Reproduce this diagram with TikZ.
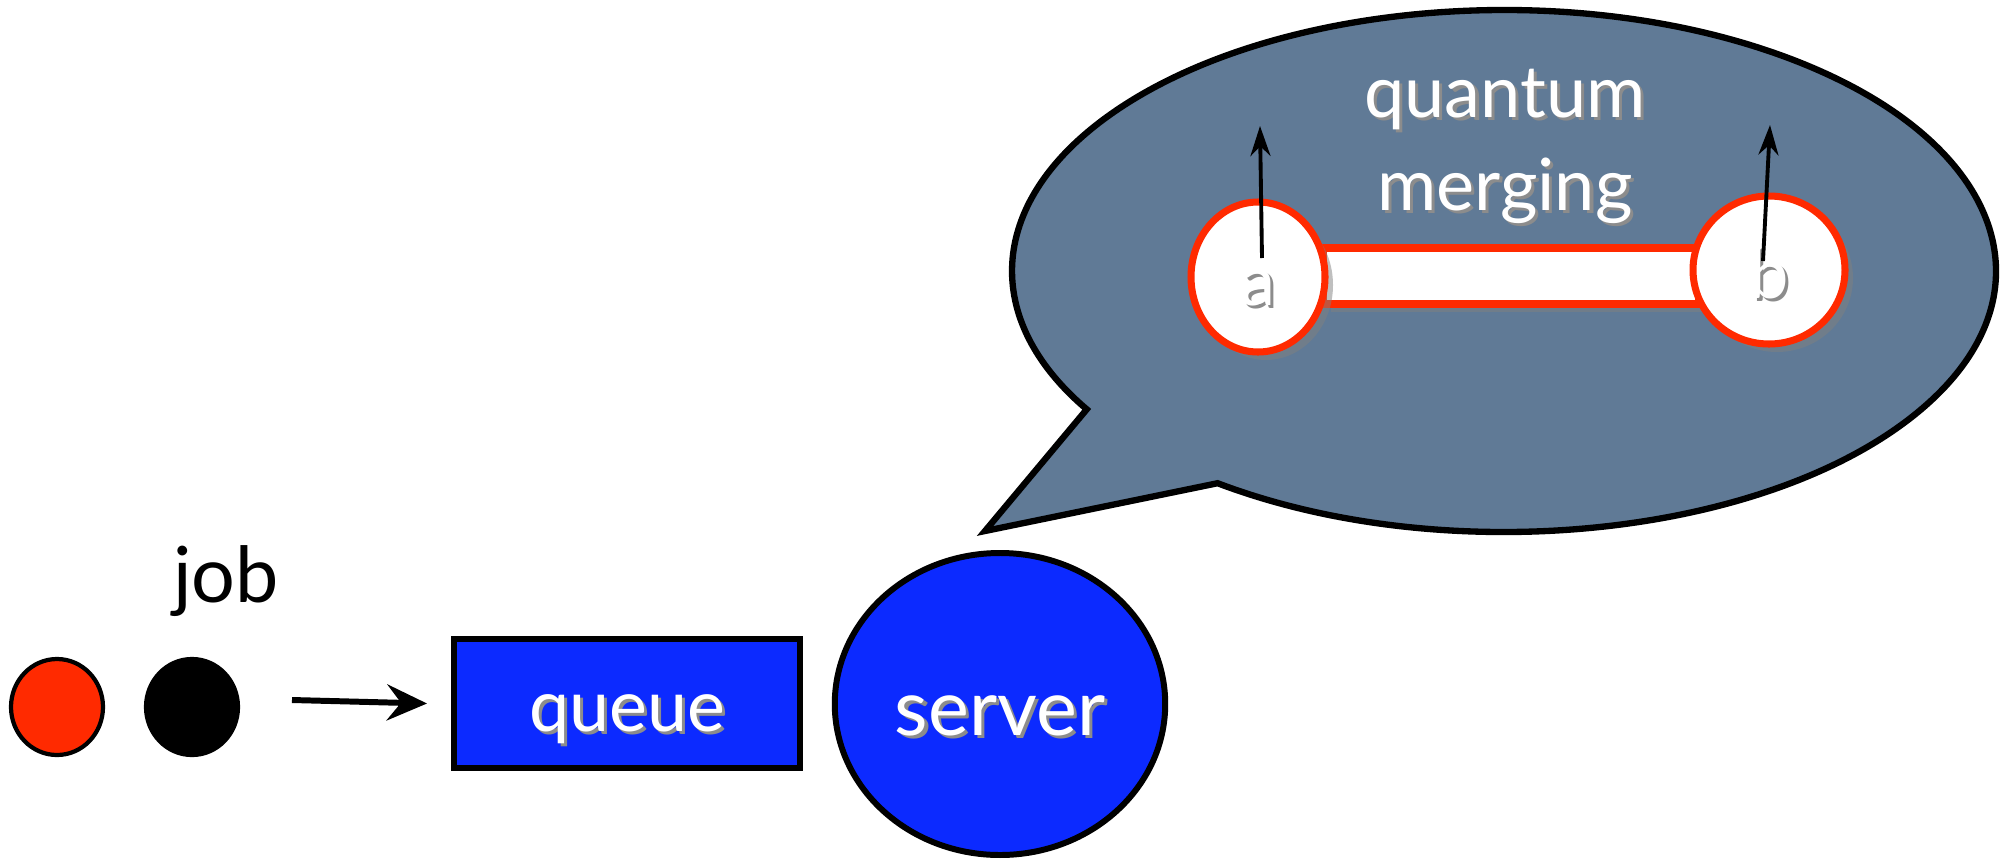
\documentclass[tikz,border=0pt]{standalone}
\usepackage{fontspec}
\setmainfont{Lato}
\usetikzlibrary{arrows.meta,shapes.geometric,shadows}

\definecolor{jobred}{RGB}{255,42,0}
\definecolor{qblue}{RGB}{12,42,255}
\definecolor{slate}{RGB}{96,122,150}

% white lettering with a soft dark offset copy behind it
\newcommand{\embossed}[1]{\makebox[0pt][l]{\hspace{0.9pt}\raisebox{-0.9pt}{\textcolor{black!45}{#1}}}#1}

\begin{document}
\begin{tikzpicture}[x=1cm,y=1cm,
    every node/.style={font=\fontsize{20}{24}\selectfont},
    jobdot/.style={ellipse, draw=black, line width=1.2pt, minimum width=0.92cm,
      minimum height=0.96cm, inner sep=0pt},
    qbox/.style={draw=black, fill=qblue, line width=1.7pt, text=white,
      minimum width=3.46cm, minimum height=1.29cm},
    endpoint/.style={ellipse, draw=jobred, fill=white, line width=2pt, inner sep=0pt,
      text=white, text height=0.56cm, text depth=0pt,
      drop shadow={shadow xshift=0.08, shadow yshift=-0.08, opacity=0.5}},
    spin/.style={-{Stealth[length=3mm, width=2mm]}, line width=1.1pt}]
  \useasboundingbox (0,0) rectangle (20.06,8.59);

  % two jobs waiting
  \node[jobdot, fill=jobred] (job1) at (0.57,1.52) {};
  \node[jobdot, fill=black] (job2) at (1.92,1.52) {};
  \node[font=\fontsize{22}{26}\selectfont] (joblabel) at (2.26,2.78) {job};

  \node[qbox, font=\fontsize{20.4}{24}\selectfont, text height=0.55cm, text depth=0pt,
    inner sep=0pt] (queue) at (6.27,1.555) {\embossed{queue}};
  \node[ellipse, draw=black, fill=qblue, line width=1.7pt, text=white,
    font=\fontsize{22}{26}\selectfont, text height=0.62cm, text depth=0pt,
    minimum width=3.3cm, minimum height=3.02cm] (server) at (10.00,1.55) {\embossed{server}};

  \coordinate (arrowtail) at (2.92,1.59);
  \draw[-{Stealth[length=4mm, width=3.6mm, inset=1.4mm]}, line width=1.7pt]
    (arrowtail) -- ([xshift=-0.24cm]queue.west);

  % speech bubble coming out of the server
  \coordinate (bubble) at (15.04,5.88);
  \coordinate (tailtip) at (9.85,3.28);
  \draw[line width=1.8pt, fill=slate] (bubble) ++(234.4:4.92 and 2.61)
    arc[start angle=234.4, end angle=572, x radius=4.92, y radius=2.61]
    -- (tailtip) -- cycle;

  \node[text=white, align=center, font=\fontsize{20.5}{26.5}\selectfont]
    (title) at (15.05,7.11) {\embossed{quantum}\\\embossed{merging}};

  % the link between the two ends
  \node[draw=jobred, fill=white, line width=2pt, minimum width=3.75cm,
    minimum height=0.56cm, inner sep=0pt,
    drop shadow={shadow xshift=0.08, shadow yshift=-0.08, opacity=0.5}]
    (link) at (15.105,5.83) {};
  \node[endpoint, minimum width=1.34cm, minimum height=1.5cm] (a) at (12.58,5.82) {\embossed{a}};
  \node[endpoint, minimum width=1.52cm, minimum height=1.48cm] (b) at (17.69,5.89) {\embossed{b}};

  \coordinate (atip) at (12.60,7.33);
  \coordinate (btip) at (17.70,7.34);
  \draw[spin] ([shift={(0.04,0.19)}]a.center) -- (atip);
  \draw[spin] ([shift={(-0.06,0.09)}]b.center) -- (btip);
\end{tikzpicture}
\end{document}
